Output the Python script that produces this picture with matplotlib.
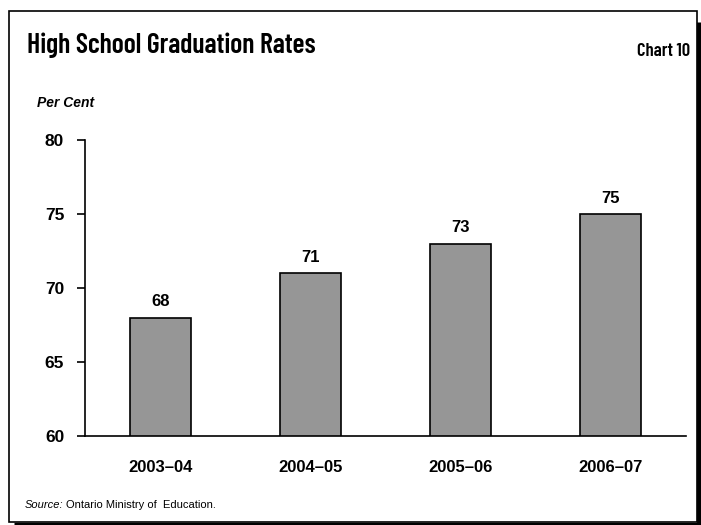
import matplotlib
matplotlib.use("Agg")
import matplotlib.pyplot as plt
from matplotlib.patches import Rectangle
from matplotlib.lines import Line2D

years = ["2003\u201304", "2004\u201305", "2005\u201306", "2006\u201307"]
rates = [68, 71, 73, 75]
yticks = [60, 65, 70, 75, 80]

W, H = 701, 525
plt.rcParams["font.family"] = ["Liberation Sans", "DejaVu Sans"]
fig = plt.figure(figsize=(W / 100, H / 100), dpi=100)
narrow = ["Barlow Condensed", "Roboto Condensed", "DejaVu Sans"]

# frame with shadow
fig.add_artist(Rectangle((9 / W, 1 - 522 / H), 688 / W, 511 / H, transform=fig.transFigure,
                         fill=False, lw=1.2, ec="black"))
fig.add_artist(Line2D([699 / W, 699 / W], [1 - 22 / H, 1 - 524 / H], transform=fig.transFigure,
                      lw=3.5, color="black", solid_capstyle="butt"))
fig.add_artist(Line2D([14 / W, 701 / W], [1 - 523.5 / H, 1 - 523.5 / H], transform=fig.transFigure,
                      lw=2.5, color="black", solid_capstyle="butt"))

ax = fig.add_axes([85 / W, 1 - 436 / H, 601 / W, 296 / H])
x = range(len(years))
bars = ax.bar(x, rates, width=0.405, color="#969696", edgecolor="black", linewidth=1.2)
ax.set_xlim(-0.5, len(years) - 0.5)
ax.set_ylim(60, 80)
ax.set_yticks(yticks)
ax.set_yticklabels([str(v) for v in yticks], fontsize=12.5, fontweight="bold")
ax.set_xticks(list(x))
ax.set_xticklabels(years, fontsize=12, fontweight="bold")
ax.tick_params(axis="y", length=6, width=1.2, pad=9)
ax.tick_params(axis="x", length=0, pad=17)
for s in ["top", "right"]:
    ax.spines[s].set_visible(False)
ax.spines["left"].set_linewidth(1.2)
ax.spines["bottom"].set_linewidth(1.2)

for b, v in zip(bars, rates):
    ax.annotate(str(v), (b.get_x() + b.get_width() / 2, v), xytext=(0, 6),
                textcoords="offset points", ha="center", va="bottom",
                fontsize=12, fontweight="bold")

title = fig.text(27 / W, 1 - 45 / H, "High School Graduation Rates", fontsize=18, family=narrow,
                 fontweight=600, va="center", ha="left")
chart = fig.text(690 / W, 1 - 51 / H, "Chart 10", fontsize=12, family=narrow,
                 fontweight=600, va="center", ha="right")
fig.text(37 / W, 1 - 103 / H, "Per Cent", fontsize=10, fontweight="bold",
         style="italic", va="center", ha="left")
t = fig.text(25 / W, 1 - 505 / H, "Source:", fontsize=8, style="italic", va="center", ha="left")
fig.canvas.draw()
# fit the condensed headings to the widths seen in the reference
for txt, target in [(title, 290), (chart, 53)]:
    w = txt.get_window_extent().width
    txt.set_fontsize(txt.get_fontsize() * target / w)
bb = t.get_window_extent()
fig.text(bb.x1 / W + 2 / W, 1 - 505 / H, "Ontario Ministry of  Education.", fontsize=8,
         va="center", ha="left")

fig.savefig("out.png", dpi=100)
